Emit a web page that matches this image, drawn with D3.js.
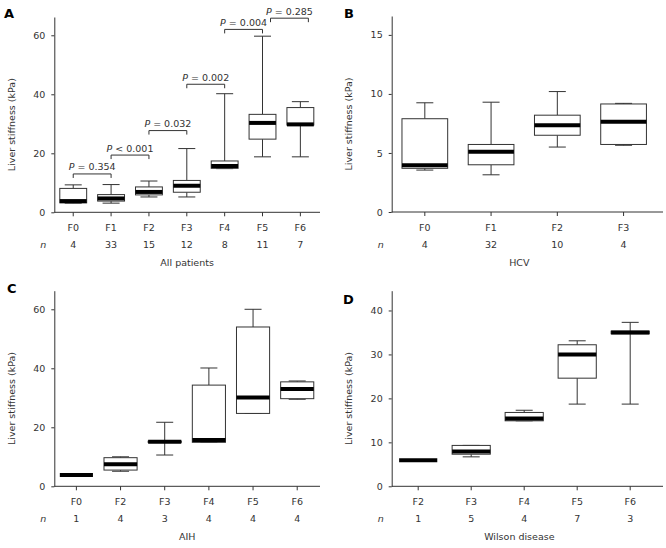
<!DOCTYPE html>
<html>
<head>
<meta charset="utf-8">
<script src="https://cdn.jsdelivr.net/npm/d3@7/dist/d3.min.js"></script>
<style>
  html, body { margin: 0; padding: 0; background: #fff; }
  svg { display: block; }
  text { font-family: "DejaVu Sans", Verdana, sans-serif; fill: #333; }
</style>
</head>
<body>
<svg id="chart" width="666" height="548"></svg>
<script>
// ---------- DATA ----------
// Panel A: All patients
const catsA = ["F0", "F1", "F2", "F3", "F4", "F5", "F6"];
const nA    = [4, 33, 15, 12, 8, 11, 7];
const lowA  = [3.1, 3.1, 5.2, 5.2, 14.8, 18.8, 18.8];
const q1A   = [3.2, 3.8, 5.9, 6.8, 14.9, 24.8, 29.6];
const medA  = [3.8, 4.7, 6.9, 9.0, 15.7, 30.3, 29.8];
const q3A   = [8.1, 6.0, 8.6, 10.8, 17.4, 33.2, 35.5];
const highA = [9.3, 9.4, 10.6, 21.6, 40.2, 59.7, 37.5];
const pLabelA = ["0.354", "< 0.001", "0.032", "0.002", "0.004", "0.285"];
const pFromA  = ["F0", "F1", "F2", "F3", "F4", "F5"];
const pToA    = ["F1", "F2", "F3", "F4", "F5", "F6"];
const pLevelA = [13.0, 19.4, 27.7, 43.4, 62.0, 65.8];
const yTicksA = [0, 20, 40, 60];

// Panel B: HCV
const catsB = ["F0", "F1", "F2", "F3"];
const nB    = [4, 32, 10, 4];
const lowB  = [3.55, 3.15, 5.5, 5.65];
const q1B   = [3.7, 4.0, 6.5, 5.72];
const medB  = [3.95, 5.1, 7.35, 7.65];
const q3B   = [7.9, 5.72, 8.2, 9.15];
const highB = [9.25, 9.3, 10.2, 9.2];
const yTicksB = [0, 5, 10, 15];

// Panel C: AIH
const catsC = ["F0", "F2", "F3", "F4", "F5", "F6"];
const nC    = [1, 4, 3, 4, 4, 4];
const lowC  = [3.8, 5.1, 10.6, 14.9, 24.7, 29.5];
const q1C   = [3.8, 5.5, 14.9, 14.9, 24.7, 29.7];
const medC  = [3.8, 7.5, 15.1, 15.7, 30.1, 33.0];
const q3C   = [3.8, 9.7, 15.3, 34.3, 54.0, 35.4];
const highC = [3.8, 10.0, 21.7, 40.1, 60.0, 35.7];
const yTicksC = [0, 20, 40, 60];

// Panel D: Wilson disease
const catsD = ["F2", "F3", "F4", "F5", "F6"];
const nD    = [1, 5, 4, 7, 3];
const lowD  = [5.9, 6.7, 14.9, 18.7, 18.7];
const q1D   = [5.9, 7.3, 14.9, 24.6, 34.7];
const medD  = [5.9, 7.9, 15.4, 30.0, 35.0];
const q3D   = [5.9, 9.3, 16.8, 32.2, 35.3];
const highD = [5.9, 9.3, 17.3, 33.1, 37.3];
const yTicksD = [0, 10, 20, 30, 40];

const titles = ["All patients", "HCV", "AIH", "Wilson disease"];
const letters = ["A", "B", "C", "D"];

// ---------- LAYOUT ----------
const pShiftA = [0, 0, 0, 0, 0, 8];   // horizontal nudge of brackets (px)

const panels = [
  { letter: letters[0], title: titles[0], cats: catsA, n: nA, low: lowA, q1: q1A, med: medA, q3: q3A, high: highA,
    ticks: yTicksA, yMax: 66.2, left: 54.3, right: 320, top: 17, bottom: 212.3, boxFrac: 0.71,
    p: pLabelA.map((l, i) => ({ label: l, from: pFromA[i], to: pToA[i], level: pLevelA[i], shift: pShiftA[i] })),
    letterPos: [4, 18], ylabX: 11 },
  { letter: letters[1], title: titles[1], cats: catsB, n: nB, low: lowB, q1: q1B, med: medB, q3: q3B, high: highB,
    ticks: yTicksB, yMax: 16.6, left: 391.7, right: 663, top: 16, bottom: 212, boxFrac: 0.69, p: [],
    letterPos: [344, 18], ylabX: 348 },
  { letter: letters[2], title: titles[2], cats: catsC, n: nC, low: lowC, q1: q1C, med: medC, q3: q3C, high: highC,
    ticks: yTicksC, yMax: 66.3, left: 54.3, right: 320, top: 290.7, bottom: 486.3, boxFrac: 0.75, p: [],
    letterPos: [7, 293], ylabX: 11 },
  { letter: letters[3], title: titles[3], cats: catsD, n: nD, low: lowD, q1: q1D, med: medD, q3: q3D, high: highD,
    ticks: yTicksD, yMax: 44.5, left: 391.7, right: 663, top: 290.7, bottom: 486.3, boxFrac: 0.72, p: [],
    letterPos: [343, 304], ylabX: 348 }
];

const svg = d3.select("#chart");
const lineColor = "#333";
const capW = 17;
const fs = 9.5;

panels.forEach(P => {
  const g = svg.append("g");
  const x = d3.scaleBand().domain(P.cats).range([P.left, P.left + 265]).paddingInner(0).paddingOuter(0);
  const y = d3.scaleLinear().domain([0, P.yMax]).range([P.bottom, P.top]);
  const cx = c => x(c) + x.bandwidth() / 2;
  const bw = x.bandwidth() * P.boxFrac;

  // y axis
  const yAxis = d3.axisLeft(y).tickValues(P.ticks).tickSize(3).tickSizeOuter(0).tickPadding(6);
  const ya = g.append("g").attr("transform", `translate(${P.left},0)`).call(yAxis);
  ya.select(".domain").attr("stroke", lineColor);
  ya.selectAll(".tick line").attr("stroke", lineColor);
  ya.selectAll(".tick text").attr("font-size", fs).attr("fill", "#444")
    .style("font-family", '"DejaVu Sans", Verdana, sans-serif');

  // x axis line
  g.append("line").attr("x1", P.left).attr("x2", P.right).attr("y1", P.bottom).attr("y2", P.bottom)
    .attr("stroke", lineColor);
  P.cats.forEach((c, i) => {
    g.append("line").attr("x1", cx(c)).attr("x2", cx(c)).attr("y1", P.bottom).attr("y2", P.bottom + 4)
      .attr("stroke", lineColor);
    g.append("text").attr("x", cx(c)).attr("y", P.bottom + 18.5).attr("text-anchor", "middle")
      .attr("font-size", fs).text(c);
    g.append("text").attr("x", cx(c)).attr("y", P.bottom + 35.5).attr("text-anchor", "middle")
      .attr("font-size", fs).text(P.n[i]);
  });
  g.append("text").attr("x", P.left - 11).attr("y", P.bottom + 35.5).attr("text-anchor", "middle")
    .attr("font-size", fs).attr("font-style", "italic").text("n");
  g.append("text").attr("x", (P.left + P.right) / 2 + (P.letter === "A" || P.letter === "C" ? 0 : -8))
    .attr("y", P.bottom + 53.5).attr("text-anchor", "middle").attr("font-size", fs).text(P.title);

  // y label
  const ymid = (P.top + P.bottom) / 2 + 10;
  g.append("text").attr("transform", `translate(${P.ylabX + 3.5},${ymid}) rotate(-90)`)
    .attr("text-anchor", "middle").attr("font-size", fs).text("Liver stiffness (kPa)");

  // panel letter
  g.append("text").attr("x", P.letterPos[0]).attr("y", P.letterPos[1]).attr("font-size", 13)
    .attr("font-weight", "bold").style("fill", "#000").text(P.letter);

  // boxes
  P.cats.forEach((c, i) => {
    const xc = cx(c);
    const bg = g.append("g");
    if (P.high[i] > P.q3[i]) {
      bg.append("line").attr("x1", xc).attr("x2", xc).attr("y1", y(P.q3[i])).attr("y2", y(P.high[i])).attr("stroke", lineColor);
    }
    if (P.low[i] < P.q1[i]) {
      bg.append("line").attr("x1", xc).attr("x2", xc).attr("y1", y(P.q1[i])).attr("y2", y(P.low[i])).attr("stroke", lineColor);
    }
    if (P.high[i] > P.med[i]) {
      bg.append("line").attr("x1", xc - capW / 2).attr("x2", xc + capW / 2).attr("y1", y(P.high[i])).attr("y2", y(P.high[i])).attr("stroke", lineColor);
    }
    if (P.low[i] < P.med[i]) {
      bg.append("line").attr("x1", xc - capW / 2).attr("x2", xc + capW / 2).attr("y1", y(P.low[i])).attr("y2", y(P.low[i])).attr("stroke", lineColor);
    }
    if (P.q3[i] > P.q1[i]) {
      bg.append("rect").attr("x", xc - bw / 2).attr("width", bw)
        .attr("y", y(P.q3[i])).attr("height", y(P.q1[i]) - y(P.q3[i]))
        .attr("fill", "#fff").attr("stroke", lineColor);
    }
    bg.append("line").attr("x1", xc - bw / 2).attr("x2", xc + bw / 2)
      .attr("y1", y(P.med[i])).attr("y2", y(P.med[i])).attr("stroke", "#000").attr("stroke-width", 4);
  });

  // p-value brackets
  P.p.forEach(d => {
    const x1 = cx(d.from) + d.shift, x2 = cx(d.to) + d.shift, yy = y(d.level);
    g.append("path").attr("d", `M${x1},${yy + 4}V${yy}H${x2}V${yy + 4}`)
      .attr("fill", "none").attr("stroke", lineColor);
    const isLess = d.label.startsWith("<");
    const t = g.append("text").attr("x", (x1 + x2) / 2).attr("y", yy - 3.5).attr("text-anchor", "middle")
      .attr("font-size", fs);
    t.append("tspan").attr("font-style", "italic").text("P");
    t.append("tspan").text(isLess ? " " + d.label : " = " + d.label);
  });
});
</script>
</body>
</html>
